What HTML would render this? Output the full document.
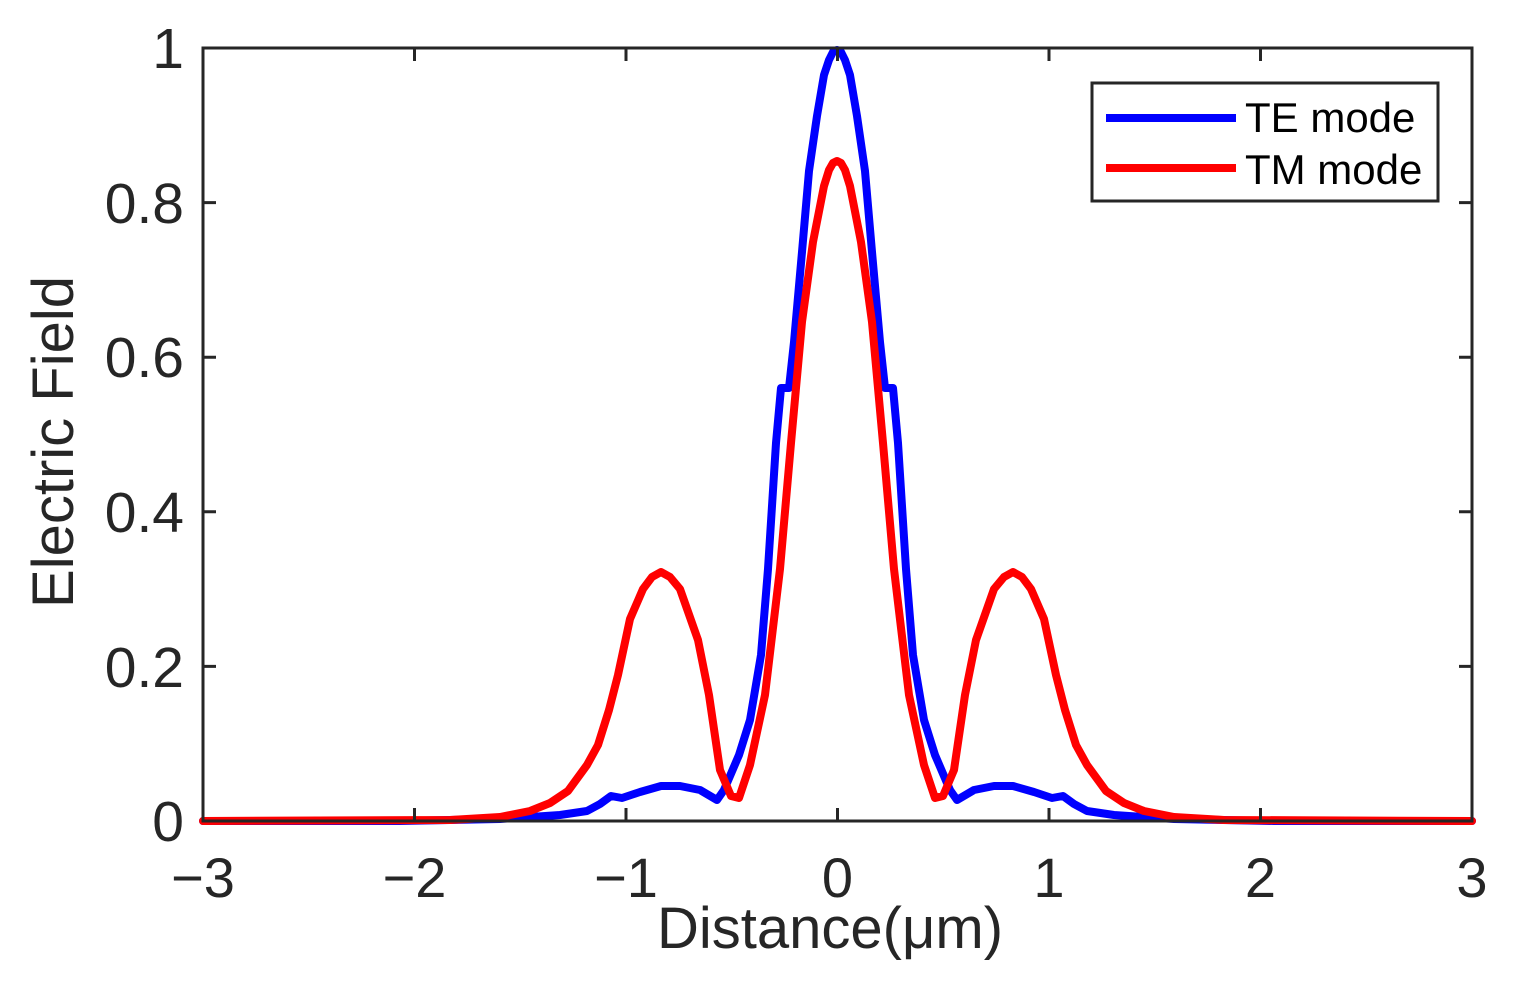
<!DOCTYPE html>
<html><head><meta charset="utf-8"><style>
html,body{margin:0;padding:0;background:#fff;}
svg{display:block;}
text{font-family:"Liberation Sans",Arial,sans-serif;fill:#262626;}
</style></head><body>
<svg width="1515" height="991" viewBox="0 0 1515 991" xmlns="http://www.w3.org/2000/svg">
<rect width="1515" height="991" fill="#fff"/>
<g id="curves" fill="none" stroke-width="8" stroke-linejoin="round" stroke-linecap="round">
<polyline id="te" stroke="#0000ff" points="203,821 400,821 500,819 560,815 587,811 600,804 611,796 622,798 640,792 661,786 680,786 700,790 717,800 724,790 739,755 750,720 761,655 768,569 776,443 781,388 789,388 794,342 802,252 809,171 817,116 824,75 829,60 833,52 837,50 841,52 845,60 850,75 857,116 865,171 872,252 880,342 885,388 893,388 898,443 906,569 913,655 924,720 935,755 950,790 957,800 974,790 994,786 1013,786 1034,792 1052,798 1063,796 1074,804 1087,811 1114,815 1174,819 1274,821 1472,821"/>
<polyline id="tm" stroke="#ff0000" points="203,821 450,820 500,817 530,811 550,803 568,791 587,765 598,745 609,710 618,675 630,619 643,589 652,577 661,572 670,577 680,589 698,640 709,695 720,770 731,796 739,798 750,765 765,695 780,569 791,443 802,322 813,242 824,186 829,170 833,163 837,161 841,163 845,170 850,186 861,242 872,322 883,443 894,569 909,695 924,765 935,798 943,796 954,770 965,695 976,640 994,589 1004,577 1013,572 1022,577 1031,589 1044,619 1056,675 1065,710 1076,745 1087,765 1106,791 1124,803 1144,811 1174,817 1224,820 1472,821"/>
</g>
<g stroke="#262626" stroke-width="3" fill="none">
<rect x="203" y="48" width="1269" height="773"/>
<path d="M203,821v-13M414.5,821v-13M626,821v-13M837.5,821v-13M1049,821v-13M1260.5,821v-13M1472,821v-13
M203,48v13M414.5,48v13M626,48v13M837.5,48v13M1049,48v13M1260.5,48v13M1472,48v13
M203,821h13M203,666.4h13M203,511.8h13M203,357.2h13M203,202.6h13M203,48h13
M1472,821h-13M1472,666.4h-13M1472,511.8h-13M1472,357.2h-13M1472,202.6h-13M1472,48h-13"/>
</g>
<g font-size="57" text-anchor="end">
<text x="184" y="841">0</text>
<text x="184" y="687">0.2</text>
<text x="184" y="532">0.4</text>
<text x="184" y="377">0.6</text>
<text x="184" y="223">0.8</text>
<text x="184" y="68">1</text>
</g>
<g font-size="56" text-anchor="middle">
<text x="203" y="897">−3</text>
<text x="414.5" y="897">−2</text>
<text x="626" y="897">−1</text>
<text x="837.5" y="897">0</text>
<text x="1049" y="897">1</text>
<text x="1260.5" y="897">2</text>
<text x="1472" y="897">3</text>
<text x="830" y="948" font-size="58">Distance(μm)</text>
<text transform="translate(73,442) rotate(-90)" font-size="58">Electric Field</text>
</g>
<rect x="1092" y="83" width="346" height="118" fill="#fff" stroke="#262626" stroke-width="3"/>
<line x1="1106" y1="118" x2="1236" y2="118" stroke="#0000ff" stroke-width="8"/>
<line x1="1106" y1="168" x2="1236" y2="168" stroke="#ff0000" stroke-width="8"/>
<text x="1245" y="132" font-size="42" style="fill:#000">TE mode</text>
<text x="1245" y="184" font-size="42" style="fill:#000">TM mode</text>
</svg>
</body></html>
